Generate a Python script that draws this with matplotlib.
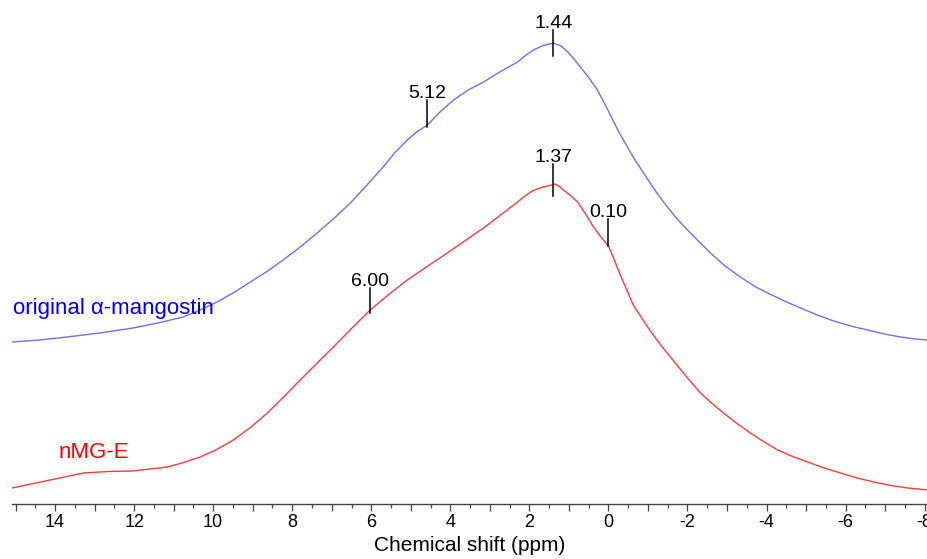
import numpy as np
import matplotlib
matplotlib.use("Agg")
import matplotlib.pyplot as plt
from matplotlib.ticker import MultipleLocator, FuncFormatter

plt.rcParams['font.family'] = ['Liberation Sans', 'DejaVu Sans']
plt.rcParams['axes.unicode_minus'] = False

# ---- data (intensity in arbitrary units) ----
blue_ppm = [15.09, 14.40, 13.70, 12.87, 12.03, 11.40, 10.76, 10.33, 9.90,
            9.48, 9.06, 8.64, 8.23, 7.80, 7.37, 6.95, 6.53, 6.12, 5.70,
            5.40, 5.09, 4.84, 4.58, 4.25, 3.92, 3.55, 3.16, 2.73, 2.30,
            2.10, 1.90, 1.65, 1.39, 1.20, 1.04, 0.88, 0.71, 0.50, 0.28,
            0.12, -0.05, -0.25, -0.48, -0.68, -0.89, -1.19, -1.49, -1.75,
            -2.00, -2.30, -2.58, -2.95, -3.34, -3.68, -4.03, -4.45, -4.86,
            -5.28, -5.70, -6.13, -6.56, -6.98, -7.39, -7.75, -8.08]
blue_int = [162, 164, 167, 171, 176, 181, 187, 194, 202,
            211.5, 222, 232.5, 244, 257, 271, 285.5, 301, 318.5, 337,
            351.5, 364, 372.5, 379, 392.5, 404, 414, 422, 432.5, 442,
            448.5, 454, 458.5, 461, 458, 452.5, 445.5, 437, 426.5, 414,
            402, 389, 373, 357, 343.5, 331, 313, 297, 284.5,
            274, 262, 251, 238, 227, 218, 211, 203, 196,
            189, 183, 178, 174, 170, 167, 165, 164]

red_ppm = [15.09, 14.61, 14.13, 13.71, 13.29, 12.66, 12.03, 11.60, 11.16,
           10.75, 10.33, 9.91, 9.49, 9.06, 8.63, 8.22, 7.80, 7.38, 6.96,
           6.50, 6.03, 5.56, 5.09, 4.59, 4.08, 3.62, 3.16, 2.73, 2.30,
           2.13, 1.97, 1.81, 1.65, 1.50, 1.34, 1.24, 1.14, 0.96, 0.78,
           0.58, 0.38, 0.19, 0.00, -0.15, -0.30, -0.47, -0.63, -0.85,
           -1.06, -1.35, -1.65, -2.00, -2.33, -2.62, -2.91, -3.25, -3.59,
           -3.94, -4.28, -4.66, -5.04, -5.46, -5.87, -6.29, -6.71, -7.14,
           -7.57, -7.83, -8.08]
red_int = [16, 20, 24, 27.5, 31, 32.5, 33, 35, 37,
           41.5, 47, 54.5, 64, 76.5, 91, 107, 124, 140.5, 157,
           175.5, 194, 209.5, 224, 237.5, 251, 263.5, 276, 289, 302,
           307.5, 312, 315, 317, 318.5, 320, 317.5, 314, 308.5, 302,
           290, 277, 267, 258, 244, 229, 213.5, 199, 185.5,
           173, 157.5, 143, 126, 111, 100.5, 91, 80.5, 71,
           62, 54, 47.5, 42, 36, 31, 26, 22, 18.5,
           16, 15, 14]

blue_peak_ppm = [4.58, 1.39]
blue_peak_labels = ["5.12", "1.44"]
red_peak_ppm = [6.03, 1.39, 0.00]
red_peak_labels = ["6.00", "1.37", "0.10"]

series_names = ["original \u03b1-mangostin", "nMG-E"]
xlabel_text = "Chemical shift (ppm)"

# ---- style ----
blue_line = '#6E6EFF'
red_line = '#FF3A3A'
blue_text = '#0000FF'
red_text = '#FF0000'
blue_marker_up, blue_marker_down = [25, 13], [2, 13]
red_marker_up, red_marker_down = [22, 20, 27], [3, 12, 0]

fig = plt.figure(figsize=(9.27, 5.59), dpi=100)
ax = fig.add_axes([12 / 927, 55 / 559, 915 / 927, 504 / 559])

ax.plot(blue_ppm, blue_int, color=blue_line, lw=1.0)
ax.plot(red_ppm, red_int, color=red_line, lw=1.0)

def draw_peaks(ppm, ints, peaks, labels, ups, downs):
    order = np.argsort(ppm)
    xs = np.asarray(ppm)[order]
    ys = np.asarray(ints)[order]
    for p, lab, u, d in zip(peaks, labels, ups, downs):
        yc = np.interp(p, xs, ys)
        ax.plot([p, p], [yc - d, yc + u], color='black', lw=1.1)
        ax.text(p, yc + u + 2, lab, ha='center', va='baseline',
                fontsize=14, color='black')

draw_peaks(blue_ppm, blue_int, blue_peak_ppm, blue_peak_labels,
           blue_marker_up, blue_marker_down)
draw_peaks(red_ppm, red_int, red_peak_ppm, red_peak_labels,
           red_marker_up, red_marker_down)

ax.text(15.06, 190, series_names[0], color=blue_text, fontsize=16,
        ha='left', va='baseline')
ax.text(13.92, 46, series_names[1], color=red_text, fontsize=16,
        ha='left', va='baseline')

ax.set_xlim(15.09, -8.06)
ax.set_ylim(0, 504)

for s in ['left', 'right', 'top']:
    ax.spines[s].set_visible(False)
ax.spines['bottom'].set_color('#444444')
ax.spines['bottom'].set_linewidth(1.0)
ax.set_yticks([])

ax.xaxis.set_major_locator(MultipleLocator(1))
ax.xaxis.set_minor_locator(MultipleLocator(0.5))
ax.xaxis.set_major_formatter(FuncFormatter(
    lambda v, pos: f"{int(round(v))}" if int(round(v)) % 2 == 0 else ""))
ax.tick_params(axis='x', which='major', length=5, width=0.9, color='#444444',
               labelsize=13, pad=2, direction='out')
ax.tick_params(axis='x', which='minor', length=3, width=0.9, color='#444444',
               direction='out')
ax.set_xlabel(xlabel_text, fontsize=15, labelpad=4)

fig.savefig('out.png', dpi=100)
